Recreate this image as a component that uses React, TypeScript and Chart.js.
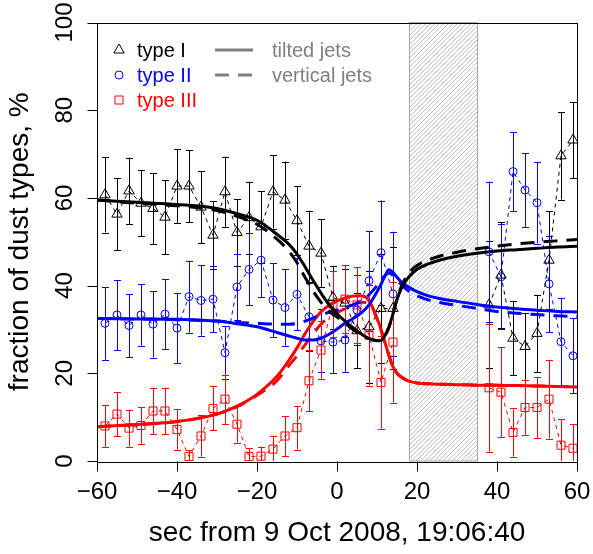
import { useEffect, useRef } from "react";
import Chart from "chart.js/auto";

// observation times, sec from 19:06:40 (no data inside the hatched interval)
const times = [
  -58, -55, -52, -49, -46, -43, -40, -37, -34, -31, -28, -25, -22, -19, -16, -13,
  -10, -7, -4, -1, 2, 5, 8, 11, 14, 38, 41, 44, 47, 50, 53, 56, 59,
];

const typeI = [
  60.7, 56.3, 61.6, 58.8, 57.6, 55.6, 62.7, 62.7, 57.9, 51.5, 61.4, 52.1, 55.5, 53.4, 61.4, 59.5,
  54.8, 49.0, 47.4, 37.3, 36.0, 29.7, 30.6, 34.8, 34.8, 35.6, 42.4, 28.0, 26.1, 29.1, 45.8, 69.6, 73.2,
];
const typeIErr = [
  8.6, 8.2, 7.6, 7.5, 8.1, 8.4, 8.4, 8.2, 8.2, 7.7, 8.0, 7.6, 8.2, 8.2, 8.4, 8.8,
  7.8, 8.1, 7.7, 7.2, 7.7, 8.5, 12.8, 12.5, 13.9, 14.5, 12.0, 8.5, 7.6, 8.8, 11.2, 10.0, 8.7,
];

const typeII = [
  31.4, 33.3, 30.9, 33.3, 31.2, 33.5, 30.3, 37.5, 36.6, 36.9, 24.7, 39.7, 43.7, 45.8, 36.7, 35.0,
  38.0, 32.9, 27.4, 27.1, 27.6, 34.4, 41.1, 47.5, 38.1, 47.7, 42.0, 66.0, 61.8, 58.9, 40.4, 27.2, 24.0,
];
const typeIIErr = [
  8.3, 8.0, 7.2, 7.0, 7.6, 8.0, 8.0, 8.2, 8.0, 7.5, 6.0, 7.6, 8.2, 8.5, 8.4, 8.7,
  8.2, 7.8, 7.2, 7.0, 7.3, 8.0, 11.4, 11.9, 14.2, 16.0, 12.0, 9.0, 8.4, 9.3, 11.0, 10.0, 8.5,
];

const typeIII = [
  8.0, 10.7, 7.5, 8.1, 11.4, 11.4, 7.2, 1.0, 5.7, 12.0, 14.1, 8.4, 1.0, 1.1, 2.7, 5.7,
  7.6, 18.3, 25.3, 35.8, 36.9, 35.6, 28.7, 17.9, 27.1, 16.7, 15.7, 6.5, 12.2, 12.2, 14.1, 3.6, 2.9,
];
const typeIIIErr = [
  4.8, 5.0, 4.2, 4.2, 5.3, 5.3, 4.6, 1.5, 4.7, 5.0, 5.6, 4.2, 2.0, 2.2, 3.0, 4.5,
  5.0, 6.9, 6.6, 7.5, 7.8, 8.7, 11.5, 10.5, 13.8, 14.6, 10.3, 5.5, 6.2, 7.0, 9.0, 6.0, 5.5,
];

// model curves
const curveT = [
  -60, -50, -40, -30, -25, -20, -15, -12, -10, -8, -6, -4, -2, 0, 2, 4, 6, 8, 10, 11, 12, 13,
  14, 15, 16, 17, 18, 20, 23, 26, 30, 35, 40, 45, 50, 55, 60,
];
const tiltedI = [
  59.5, 59.0, 58.5, 57.6, 56.4, 54.9, 51.7, 49.4, 47.2, 44.3, 41.2, 38.3, 35.7, 33.6, 31.9, 30.4, 29.0, 27.9, 27.4, 27.5, 28.6, 30.6,
  33.6, 36.8, 39.2, 40.8, 42.0, 43.7, 45.0, 45.9, 46.7, 47.4, 47.9, 48.2, 48.5, 48.8, 49.0,
];
const verticalI = [
  59.5, 58.8, 58.2, 57.1, 55.8, 54.0, 50.6, 47.8, 45.2, 41.9, 38.8, 36.2, 34.2, 32.8, 31.4, 30.0, 28.8, 27.9, 27.5, 27.6, 28.6, 30.5,
  33.6, 37.0, 39.6, 41.5, 42.9, 44.6, 45.9, 46.8, 47.6, 48.4, 49.0, 49.5, 49.9, 50.2, 50.5,
];
const tiltedII = [
  32.5, 32.4, 32.3, 31.9, 31.3, 30.6, 29.3, 28.5, 28.0, 27.6, 27.6, 28.0, 28.9, 30.1, 31.4, 32.5, 33.7, 35.6, 38.6, 40.3, 42.2, 43.6,
  43.0, 41.9, 40.9, 40.2, 39.6, 38.6, 37.6, 37.0, 36.4, 35.7, 35.1, 34.7, 34.4, 34.1, 34.0,
];
const verticalII = [
  32.5, 32.4, 32.2, 31.9, 31.6, 31.4, 31.2, 31.2, 31.4, 31.9, 32.6, 33.3, 33.9, 34.4, 35.0, 35.6, 36.5, 37.9, 40.0, 41.2, 42.3, 42.9,
  42.3, 41.2, 40.3, 39.4, 38.7, 37.7, 36.7, 36.1, 35.5, 34.8, 34.1, 33.7, 33.4, 33.1, 33.0,
];
const tiltedIII = [
  7.8, 8.3, 9.0, 10.7, 12.5, 15.2, 19.3, 23.0, 25.8, 29.0, 31.8, 34.0, 35.5, 36.5, 37.2, 37.6, 37.7, 36.6, 32.6, 30.0, 27.0, 24.0,
  21.5, 20.0, 19.2, 18.6, 18.2, 17.8, 17.6, 17.5, 17.4, 17.3, 17.3, 17.2, 17.1, 17.0, 16.9,
];
const verticalIII = [
  7.8, 8.3, 9.0, 10.7, 12.4, 15.0, 18.3, 21.8, 24.0, 26.5, 29.0, 31.2, 32.8, 33.8, 34.7, 35.5, 36.2, 36.0, 32.4, 29.8, 27.0, 24.0,
  21.5, 20.0, 19.2, 18.6, 18.2, 17.8, 17.6, 17.5, 17.4, 17.3, 17.3, 17.2, 17.1, 17.0, 16.9,
];

const xTicks = [-60, -40, -20, 0, 20, 40, 60];
const yTicks = [0, 20, 40, 60, 80, 100];
const gap = [18, 35];

const FONT = '"Liberation Sans", Arial, Helvetica, sans-serif';
const BLUE = "#0000ff";
const RED = "#ff0000";
const GREY = "#808080";
const DASH = [14, 9];

// break the connecting line where there is no data
const toPoints = (ts: number[], vs: number[]) => {
  const out: { x: number; y: number | null }[] = [];
  ts.forEach((t, i) => {
    if (i > 0 && t - ts[i - 1] > 6) out.push({ x: (t + ts[i - 1]) / 2, y: null });
    out.push({ x: t, y: vs[i] });
  });
  return out;
};

const curve = (vs: number[]) => curveT.map((t, i) => ({ x: t, y: vs[i] }));

const series = [
  { vals: typeI, errs: typeIErr, color: "#000000" },
  { vals: typeII, errs: typeIIErr, color: BLUE },
  { vals: typeIII, errs: typeIIIErr, color: RED },
];

const drawSymbol = (ctx: CanvasRenderingContext2D, kind: string, x: number, y: number, color: string) => {
  ctx.save();
  ctx.strokeStyle = color;
  ctx.lineWidth = 1;
  ctx.beginPath();
  if (kind === "triangle") {
    const r = 6;
    ctx.moveTo(x, y - r);
    ctx.lineTo(x + r * 0.866, y + r / 2);
    ctx.lineTo(x - r * 0.866, y + r / 2);
    ctx.closePath();
  } else if (kind === "circle") {
    ctx.arc(x, y, 4, 0, Math.PI * 2);
  } else {
    ctx.rect(x - 4, y - 4, 8, 8);
  }
  ctx.stroke();
  ctx.restore();
};

const decorPlugin = {
  id: "decor",
  beforeDatasetsDraw(chart: any) {
    const { ctx, chartArea: a, scales } = chart;
    const xs = scales.x;
    const ys = scales.y;
    // hatched interval
    const x0 = xs.getPixelForValue(gap[0]);
    const x1 = xs.getPixelForValue(gap[1]);
    ctx.save();
    ctx.beginPath();
    ctx.rect(x0, a.top, x1 - x0, a.bottom - a.top);
    ctx.clip();
    ctx.strokeStyle = "#a8a8a8";
    ctx.lineWidth = 0.8;
    ctx.beginPath();
    const h = a.bottom - a.top;
    for (let s = x0 - h; s < x1; s += 4.5) {
      ctx.moveTo(s, a.bottom);
      ctx.lineTo(s + h, a.top);
    }
    ctx.stroke();
    ctx.restore();
    ctx.save();
    ctx.strokeStyle = "#a8a8a8";
    ctx.lineWidth = 1;
    ctx.strokeRect(Math.round(x0) + 0.5, a.top, Math.round(x1 - x0), a.bottom - a.top);
    ctx.restore();

    // error bars
    ctx.save();
    ctx.beginPath();
    ctx.rect(a.left, a.top, a.right - a.left, a.bottom - a.top);
    ctx.clip();
    ctx.lineWidth = 1;
    series.forEach(s => {
      ctx.strokeStyle = s.color;
      ctx.beginPath();
      times.forEach((t, i) => {
        const px = Math.round(xs.getPixelForValue(t)) + 0.5;
        const top = ys.getPixelForValue(s.vals[i] + s.errs[i]);
        const bot = ys.getPixelForValue(s.vals[i] - s.errs[i]);
        ctx.moveTo(px, top);
        ctx.lineTo(px, bot);
        ctx.moveTo(px - 3.5, Math.round(top) + 0.5);
        ctx.lineTo(px + 3.5, Math.round(top) + 0.5);
        ctx.moveTo(px - 3.5, Math.round(bot) + 0.5);
        ctx.lineTo(px + 3.5, Math.round(bot) + 0.5);
      });
      ctx.stroke();
    });
    ctx.restore();
  },
  afterDraw(chart: any) {
    const { ctx, chartArea: a, scales } = chart;
    const xs = scales.x;
    const ys = scales.y;
    const L = Math.round(a.left) + 0.5;
    const B = Math.round(a.bottom) + 0.5;
    ctx.save();
    // frame
    ctx.strokeStyle = "#000";
    ctx.lineWidth = 1;
    ctx.strokeRect(L, Math.round(a.top) + 0.5, Math.round(a.right - a.left), Math.round(a.bottom - a.top));
    ctx.fillStyle = "#000";
    ctx.font = `24px ${FONT}`;
    // x axis
    ctx.beginPath();
    xTicks.forEach(v => {
      const px = Math.round(xs.getPixelForValue(v)) + 0.5;
      ctx.moveTo(px, B);
      ctx.lineTo(px, B + 10);
    });
    ctx.stroke();
    ctx.textAlign = "center";
    ctx.textBaseline = "alphabetic";
    xTicks.forEach(v => {
      const px = xs.getPixelForValue(v);
      const label = v < 0 ? `\u2212${Math.abs(v)}` : `${v}`;
      ctx.fillText(label, px, 499);
    });
    // y axis
    ctx.beginPath();
    yTicks.forEach(v => {
      const py = Math.round(ys.getPixelForValue(v)) + 0.5;
      ctx.moveTo(L, py);
      ctx.lineTo(L - 10, py);
    });
    ctx.stroke();
    yTicks.forEach(v => {
      const py = ys.getPixelForValue(v);
      ctx.save();
      ctx.translate(72, py);
      ctx.rotate(-Math.PI / 2);
      ctx.fillText(`${v}`, 0, 0);
      ctx.restore();
    });
    // axis titles
    ctx.font = `28px ${FONT}`;
    ctx.fillText("sec from 9 Oct 2008, 19:06:40", (a.left + a.right) / 2, 541);
    ctx.save();
    ctx.translate(28, (a.top + a.bottom) / 2);
    ctx.rotate(-Math.PI / 2);
    ctx.fillText("fraction of dust types, %", 0, 0);
    ctx.restore();

    // legend
    ctx.font = `20px ${FONT}`;
    ctx.textAlign = "left";
    const rows = [
      { kind: "triangle", label: "type I", color: "#000" },
      { kind: "circle", label: "type II", color: BLUE },
      { kind: "square", label: "type III", color: RED },
    ];
    rows.forEach((r, i) => {
      const cy = 50 + i * 25;
      drawSymbol(ctx, r.kind, 119, cy, r.color);
      ctx.fillStyle = r.color;
      ctx.fillText(r.label, 137, cy + 7);
    });
    ctx.strokeStyle = GREY;
    ctx.lineWidth = 3;
    ctx.beginPath();
    ctx.moveTo(215, 50);
    ctx.lineTo(253, 50);
    ctx.stroke();
    ctx.setLineDash(DASH);
    ctx.beginPath();
    ctx.moveTo(215, 75);
    ctx.lineTo(253, 75);
    ctx.stroke();
    ctx.setLineDash([]);
    ctx.fillStyle = GREY;
    ctx.fillText("tilted jets", 272, 57);
    ctx.fillText("vertical jets", 272, 82);
    ctx.restore();
  },
};

const App: React.FC = () => {
  const canvasRef = useRef<HTMLCanvasElement | null>(null);

  useEffect(() => {
    if (!canvasRef.current) return;

    const obs = (vals: number[], color: string, style: string, radius: number) => ({
      data: toPoints(times, vals),
      borderColor: color,
      borderWidth: 1,
      borderDash: [4, 4],
      pointStyle: style,
      pointRadius: radius,
      pointBorderColor: color,
      pointBackgroundColor: "rgba(0,0,0,0)",
      pointBorderWidth: 1,
      spanGaps: false,
      tension: 0,
      order: 2,
    });

    const model = (vals: number[], color: string, dashed: boolean) => ({
      data: curve(vals),
      borderColor: color,
      borderWidth: 3,
      borderDash: dashed ? DASH : [],
      pointRadius: 0,
      cubicInterpolationMode: "monotone" as const,
      order: 1,
    });

    const chart = new Chart(canvasRef.current, {
      type: "line",
      data: {
        datasets: [
          obs(typeI, "#000000", "triangle", 6),
          obs(typeII, BLUE, "circle", 4),
          obs(typeIII, RED, "rect", 5.7),
          model(verticalI, "#000000", true),
          model(tiltedI, "#000000", false),
          model(verticalII, BLUE, true),
          model(tiltedII, BLUE, false),
          model(verticalIII, RED, true),
          model(tiltedIII, RED, false),
        ] as any,
      },
      options: {
        animation: false,
        responsive: true,
        maintainAspectRatio: false,
        layout: { padding: { left: 97, right: 16, top: 22.5, bottom: 93 } },
        scales: {
          x: { type: "linear", min: -60, max: 60, display: false },
          y: { type: "linear", min: 0, max: 100, display: false },
        },
        plugins: {
          legend: { display: false },
          tooltip: { enabled: false },
        },
      },
      plugins: [decorPlugin],
    });

    return () => {
      chart.destroy();
    };
  }, []);

  return (
    <div style={{ position: "fixed", left: 0, top: 0, width: 593, height: 554, background: "#fff" }}>
      <canvas ref={canvasRef} />
    </div>
  );
};

export default App;
